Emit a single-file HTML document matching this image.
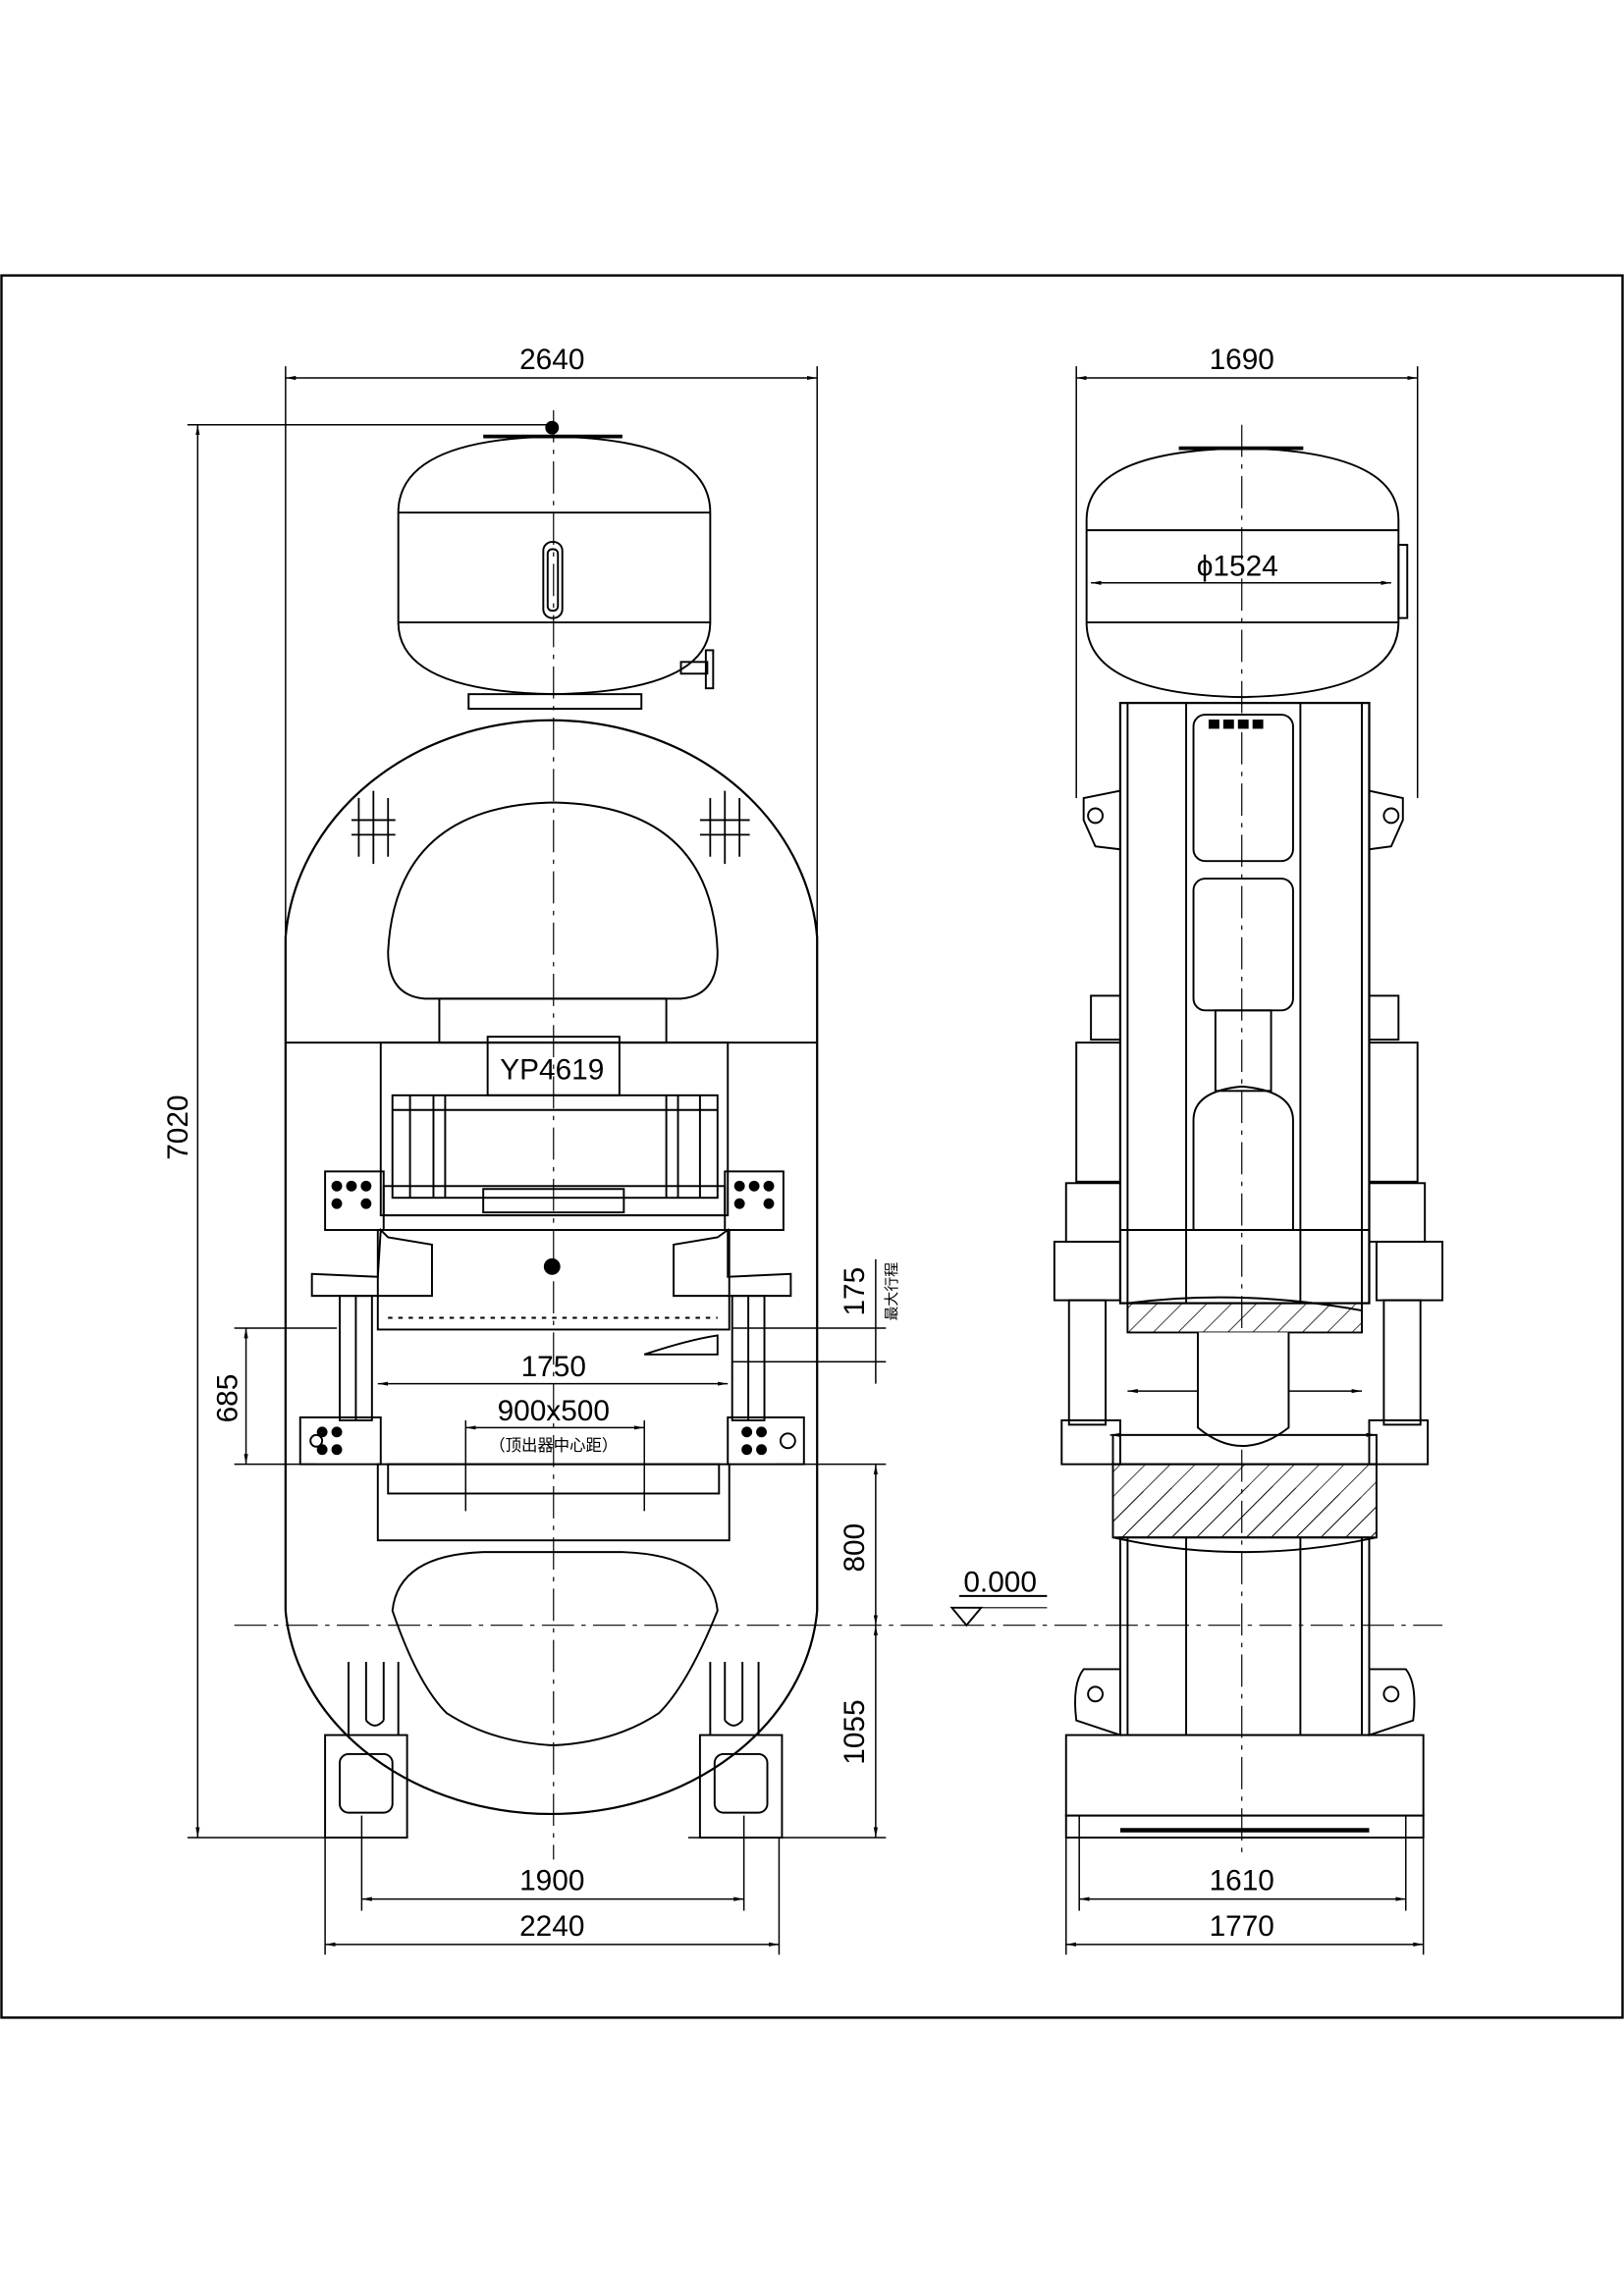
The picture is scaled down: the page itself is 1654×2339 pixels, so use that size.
<!DOCTYPE html>
<html><head><meta charset="utf-8"><style>
html,body{margin:0;padding:0;background:#fff}
svg{display:block}
text{font-family:"Liberation Sans","Noto Sans CJK SC",sans-serif;fill:#000}
</style></head><body>
<svg width="1654" height="2339" viewBox="0 0 1109 1568" xmlns="http://www.w3.org/2000/svg" fill="none" stroke="#000" stroke-width="1.3">
<defs>
<marker id="a" viewBox="0 0 10 10" refX="10" refY="5" markerWidth="7" markerHeight="7" orient="auto-start-reverse"><path d="M0,3 L10,5 L0,7z" fill="#000" stroke="none"/></marker>
<pattern id="h" width="12" height="12" patternUnits="userSpaceOnUse" patternTransform="rotate(45)"><line x1="0" y1="0" x2="0" y2="12" stroke="#000" stroke-width="1"/></pattern>
</defs>
<!-- frame -->
<rect x="1" y="188" width="1107" height="1190" stroke-width="1.6"/>

<!-- ===== LEFT VIEW ===== -->
<g stroke-width="1">
<line x1="195" y1="250" x2="195" y2="710"/><line x1="558" y1="250" x2="558" y2="710"/>
<line x1="195" y1="258" x2="558" y2="258" marker-start="url(#a)" marker-end="url(#a)"/>
<line x1="128" y1="290" x2="378" y2="290"/><line x1="128" y1="1255" x2="222" y2="1255"/>
<line x1="135" y1="290" x2="135" y2="1255" marker-start="url(#a)" marker-end="url(#a)"/>
<line x1="160" y1="907" x2="230" y2="907"/><line x1="160" y1="1000" x2="215" y2="1000"/>
<line x1="168" y1="907" x2="168" y2="1000" marker-start="url(#a)" marker-end="url(#a)"/>
<line x1="500" y1="907" x2="605" y2="907"/><line x1="500" y1="930" x2="605" y2="930"/>
<line x1="530" y1="1000" x2="605" y2="1000"/><line x1="470" y1="1255" x2="605" y2="1255"/>
<line x1="598" y1="860" x2="598" y2="945"/>
<line x1="598" y1="1000" x2="598" y2="1110" marker-start="url(#a)" marker-end="url(#a)"/>
<line x1="598" y1="1110" x2="598" y2="1255" marker-start="url(#a)" marker-end="url(#a)"/>
<line x1="222" y1="1255" x2="222" y2="1335"/><line x1="532" y1="1255" x2="532" y2="1335"/>
<line x1="247" y1="1240" x2="247" y2="1305"/><line x1="508" y1="1240" x2="508" y2="1305"/>
<line x1="247" y1="1297" x2="508" y2="1297" marker-start="url(#a)" marker-end="url(#a)"/>
<line x1="222" y1="1328" x2="532" y2="1328" marker-start="url(#a)" marker-end="url(#a)"/>
<line x1="258" y1="945" x2="497" y2="945" marker-start="url(#a)" marker-end="url(#a)"/>
<line x1="318" y1="975" x2="440" y2="975" marker-start="url(#a)" marker-end="url(#a)"/>
<line x1="318" y1="970" x2="318" y2="1032"/><line x1="440" y1="970" x2="440" y2="1032"/>
</g>
<g font-size="20" stroke="none" text-anchor="middle">
<text x="377" y="252">2640</text>
<text x="378" y="940">1750</text>
<text x="378" y="970">900x500</text>
<text x="378" y="991" font-size="11">（顶出器中心距）</text>
<text x="377" y="1291">1900</text>
<text x="377" y="1322">2240</text>
<text transform="translate(128,770) rotate(-90)">7020</text>
<text transform="translate(162,955) rotate(-90)">685</text>
<text transform="translate(590,882) rotate(-90)">175</text>
<text transform="translate(590,1057) rotate(-90)">800</text>
<text transform="translate(590,1183) rotate(-90)">1055</text>
<text transform="translate(612,882) rotate(-90)" font-size="10">最大行程</text>
<text x="683" y="1087">0.000</text>
<text x="377" y="737">YP4619</text>
<text x="848" y="252">1690</text>
<text x="845" y="393">ϕ1524</text>
<text x="848" y="947">1150</text>
<text x="848" y="976">1320</text>
<text x="848" y="1291">1610</text>
<text x="848" y="1322">1770</text>
</g>
<line x1="655" y1="1090" x2="715" y2="1090"/><path d="M650,1098 L660,1110 L670,1098 Z"/><line x1="650" y1="1098" x2="715" y2="1098" stroke-width="0.8"/>

<!-- centerlines -->
<g stroke-width="0.8" stroke-dasharray="22,5,3,5">
<line x1="160" y1="1110" x2="985" y2="1110"/>
<line x1="378" y1="280" x2="378" y2="1270"/>
<line x1="848" y1="290" x2="848" y2="1270"/>
</g>

<!-- tank left -->
<path d="M272,350 Q272,300 378,298 Q485,300 485,350 L485,425 Q485,472 378,474 Q272,472 272,425 Z"/>
<line x1="272" y1="350" x2="485" y2="350"/><line x1="272" y1="425" x2="485" y2="425"/>
<rect x="371" y="370" width="13" height="52" rx="6"/><rect x="374" y="375" width="7" height="42" rx="3"/>
<line x1="330" y1="298" x2="425" y2="298" stroke-width="2.5"/>
<circle cx="377" cy="292" r="4" fill="#000"/>
<rect x="465" y="452" width="18" height="8"/><rect x="482" y="444" width="5" height="26"/>
<rect x="320" y="474" width="118" height="10"/>

<!-- main frame left -->
<path d="M195,640 A182,160 0 0 1 558,640 L558,1100 A182,150 0 0 1 195,1100 Z" stroke-width="1.5"/>
<line x1="195" y1="712" x2="558" y2="712"/>
<path d="M265,650 Q270,550 378,548 Q486,550 490,650 Q490,680 465,682 L290,682 Q265,680 265,650 Z"/>
<rect x="300" y="682" width="155" height="30"/>
<rect x="333" y="708" width="90" height="40"/>
<!-- ribs -->
<g stroke-width="1.2">
<path d="M245,545 L245,585 M255,540 L255,590 M265,545 L265,585 M240,560 L270,560 M240,570 L270,570"/>
<path d="M485,545 L485,585 M495,540 L495,590 M505,545 L505,585 M478,560 L512,560 M478,570 L512,570"/>
</g>
<!-- cylinder block -->
<rect x="260" y="712" width="237" height="118"/>
<rect x="268" y="748" width="222" height="70"/>
<line x1="268" y1="758" x2="490" y2="758"/>
<line x1="280" y1="748" x2="280" y2="818"/><line x1="296" y1="748" x2="296" y2="818"/><line x1="304" y1="748" x2="304" y2="818"/>
<line x1="455" y1="748" x2="455" y2="818"/><line x1="463" y1="748" x2="463" y2="818"/><line x1="478" y1="748" x2="478" y2="818"/>
<rect x="262" y="810" width="233" height="20"/>
<rect x="330" y="812" width="96" height="16"/>
<rect x="222" y="800" width="40" height="40"/><rect x="495" y="800" width="40" height="40"/>
<g fill="#000"><circle cx="230" cy="810" r="3"/><circle cx="240" cy="810" r="3"/><circle cx="250" cy="810" r="3"/><circle cx="230" cy="822" r="3"/><circle cx="250" cy="822" r="3"/>
<circle cx="505" cy="810" r="3"/><circle cx="515" cy="810" r="3"/><circle cx="525" cy="810" r="3"/><circle cx="505" cy="822" r="3"/><circle cx="525" cy="822" r="3"/></g>
<!-- slide -->
<path d="M213,870 L213,885 L295,885 L295,850 L265,845 L260,840 L258,872 Z"/>
<path d="M540,870 L540,885 L460,885 L460,850 L490,845 L497,840 L497,872 Z"/>
<rect x="258" y="840" width="240" height="68"/>
<circle cx="377" cy="865" r="5" fill="#000"/>
<line x1="265" y1="900" x2="490" y2="900" stroke-dasharray="3,4"/>
<path d="M440,925 Q470,915 490,912 L490,925 Z"/>
<!-- guide columns -->
<rect x="232" y="885" width="22" height="85"/><rect x="500" y="885" width="22" height="85"/>
<line x1="243" y1="885" x2="243" y2="970"/><line x1="511" y1="885" x2="511" y2="970"/>
<rect x="205" y="968" width="55" height="32"/><rect x="497" y="968" width="52" height="32"/>
<g fill="#000"><circle cx="220" cy="978" r="3"/><circle cx="230" cy="978" r="3"/><circle cx="220" cy="990" r="3"/><circle cx="230" cy="990" r="3"/>
<circle cx="510" cy="978" r="3"/><circle cx="520" cy="978" r="3"/><circle cx="510" cy="990" r="3"/><circle cx="520" cy="990" r="3"/></g>
<circle cx="538" cy="984" r="5"/><circle cx="216" cy="984" r="4"/>
<!-- bolster -->
<rect x="258" y="1000" width="240" height="52"/>
<rect x="265" y="1000" width="226" height="20"/>
<!-- lower window -->
<path d="M268,1100 Q272,1062 330,1060 L425,1060 Q486,1062 490,1100 Q470,1150 450,1170 Q420,1190 378,1192 Q336,1190 305,1170 Q285,1150 268,1100 Z"/>
<!-- feet -->
<rect x="222" y="1185" width="56" height="70"/><rect x="478" y="1185" width="56" height="70"/>
<rect x="232" y="1198" width="36" height="40" rx="6"/><rect x="488" y="1198" width="36" height="40" rx="6"/>
<path d="M238,1135 L238,1185 M250,1135 L250,1175 M262,1135 L262,1175 M250,1175 Q256,1182 262,1175 M272,1135 L272,1185"/>
<path d="M485,1135 L485,1185 M495,1135 L495,1175 M507,1135 L507,1175 M495,1175 Q501,1182 507,1175 M518,1135 L518,1185"/>

<!-- ===== RIGHT VIEW ===== -->
<g stroke-width="1">
<line x1="735" y1="250" x2="735" y2="545"/><line x1="968" y1="250" x2="968" y2="545"/>
<line x1="735" y1="258" x2="968" y2="258" marker-start="url(#a)" marker-end="url(#a)"/>
<line x1="745" y1="398" x2="950" y2="398" marker-start="url(#a)" marker-end="url(#a)"/>
<line x1="770" y1="950" x2="930" y2="950" marker-start="url(#a)" marker-end="url(#a)"/>
<line x1="758" y1="980" x2="940" y2="980" marker-start="url(#a)" marker-end="url(#a)"/>
<line x1="737" y1="1240" x2="737" y2="1305"/><line x1="960" y1="1240" x2="960" y2="1305"/>
<line x1="728" y1="1255" x2="728" y2="1335"/><line x1="972" y1="1255" x2="972" y2="1335"/>
<line x1="737" y1="1297" x2="960" y2="1297" marker-start="url(#a)" marker-end="url(#a)"/>
<line x1="728" y1="1328" x2="972" y2="1328" marker-start="url(#a)" marker-end="url(#a)"/>
</g>
<!-- tank right -->
<path d="M742,355 Q742,308 848,306 Q955,308 955,355 L955,425 Q955,474 848,476 Q742,474 742,425 Z"/>
<line x1="742" y1="362" x2="955" y2="362"/><line x1="742" y1="425" x2="955" y2="425"/>
<rect x="955" y="372" width="6" height="50"/>
<line x1="805" y1="306" x2="890" y2="306" stroke-width="2.5"/>
<!-- columns -->
<rect x="765" y="480" width="170" height="410" stroke-width="1.5"/>
<line x1="770" y1="480" x2="770" y2="890"/><line x1="930" y1="480" x2="930" y2="890"/>
<line x1="810" y1="480" x2="810" y2="890"/><line x1="888" y1="480" x2="888" y2="890"/>
<rect x="815" y="488" width="68" height="100" rx="8"/>
<rect x="815" y="600" width="68" height="90" rx="8"/>
<g fill="#000"><rect x="826" y="492" width="6" height="5"/><rect x="836" y="492" width="6" height="5"/><rect x="846" y="492" width="6" height="5"/><rect x="856" y="492" width="6" height="5"/></g>
<rect x="830" y="690" width="38" height="55"/>
<path d="M815,765 Q815,745 848,742 Q883,745 883,765 L883,840 L815,840 Z"/>
<path d="M740,560 L740,545 L765,540 L765,580 L748,578 Z"/><circle cx="748" cy="557" r="5"/>
<path d="M958,560 L958,545 L935,540 L935,580 L950,578 Z"/><circle cx="950" cy="557" r="5"/>
<rect x="745" y="680" width="20" height="30"/><rect x="935" y="680" width="20" height="30"/>
<rect x="735" y="712" width="30" height="95"/><rect x="935" y="712" width="33" height="95"/>
<rect x="728" y="808" width="37" height="40"/><rect x="935" y="808" width="38" height="40"/>
<rect x="720" y="848" width="45" height="40"/><rect x="940" y="848" width="45" height="40"/>
<rect x="730" y="888" width="25" height="85"/><rect x="945" y="888" width="25" height="85"/>
<rect x="725" y="970" width="40" height="30"/><rect x="935" y="970" width="40" height="30"/>
<line x1="765" y1="840" x2="935" y2="840"/>
<!-- hatched slide -->
<path d="M770,890 L930,890 L930,910 L770,910 Z" fill="url(#h)"/>
<path d="M770,890 Q848,880 930,895" />
<path d="M818,910 L818,975 Q848,1000 880,975 L880,910" fill="#fff"/>
<rect x="760" y="980" width="180" height="20"/>
<path d="M760,1000 L940,1000 L940,1050 L760,1050 Z" fill="url(#h)"/>
<path d="M760,1022 Q848,1005 940,1025 L940,1050 L760,1050 Z" stroke="none" fill="url(#h)"/>
<path d="M760,1050 Q848,1070 940,1050"/>
<!-- lower columns -->
<rect x="765" y="1050" width="170" height="135"/>
<line x1="770" y1="1050" x2="770" y2="1185"/><line x1="930" y1="1050" x2="930" y2="1185"/>
<line x1="810" y1="1050" x2="810" y2="1185"/><line x1="888" y1="1050" x2="888" y2="1185"/>
<path d="M765,1140 L740,1140 Q732,1150 735,1175 L765,1185 Z"/><circle cx="748" cy="1157" r="5"/>
<path d="M935,1140 L960,1140 Q968,1150 965,1175 L935,1185 Z"/><circle cx="950" cy="1157" r="5"/>
<rect x="728" y="1185" width="244" height="55"/>
<rect x="728" y="1240" width="244" height="15"/>
<line x1="765" y1="1250" x2="935" y2="1250" stroke-width="3"/>
</svg>
</body></html>
